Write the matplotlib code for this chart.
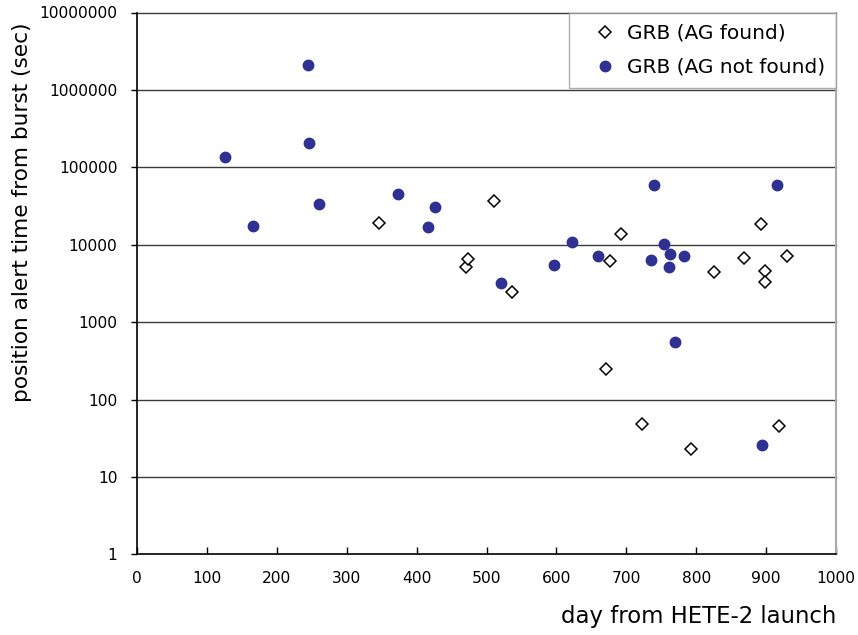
import matplotlib
matplotlib.use("Agg")
import matplotlib.pyplot as plt
from matplotlib.ticker import FixedLocator, NullLocator, FixedFormatter

plt.rcParams['font.family'] = ['DejaVu Sans']

# GRB with afterglow found
found_day = [346, 470, 473, 511, 537, 671, 677, 692, 723, 792, 826, 868, 893, 898, 898, 919, 930]
found_sec = [19200, 5200, 6600, 36700, 2450, 248, 6100, 13900, 48.7, 22.9, 4400, 6800, 18500, 4610, 3300, 45, 7080]

# GRB with afterglow not found
notfound_day = [126, 166, 244, 246, 260, 373, 416, 427, 521, 597, 623, 660, 735, 739,
                754, 761, 763, 770, 783, 894, 916]
notfound_sec = [137000, 17500, 2100000, 208000, 33600, 44800, 16800, 31000, 3230, 5520, 10900, 7080, 6400, 59600,
                10200, 5150, 7650, 553, 7140, 25.8, 59600]

x_ticks = list(range(0, 1001, 100))
y_ticks = [1, 10, 100, 1000, 10000, 100000, 1000000, 10000000]
y_labels = [str(v) for v in y_ticks]

fig = plt.figure(figsize=(8.58, 6.35), dpi=100)
ax = fig.add_axes([137 / 858, 1 - 554.3 / 635, (836 - 137) / 858, (554.3 - 12.5) / 635])

ax.set_yscale('log')
ax.set_xlim(0, 1000)
ax.set_ylim(1, 10000000)

for v in y_ticks[1:]:
    ax.axhline(v, color='#3a3a3a', lw=1.0, zorder=1, clip_on=False)

ax.plot(found_day, found_sec, linestyle='none', marker='D', ms=6.5, mfc='white',
        mec='black', mew=1.1, label='GRB (AG found)', zorder=3)
ax.plot(notfound_day, notfound_sec, linestyle='none', marker='o', ms=7.5, mfc='#2e3192',
        mec='#2e3192', label='GRB (AG not found)', zorder=3)

ax.xaxis.set_major_locator(FixedLocator(x_ticks))
ax.yaxis.set_major_locator(FixedLocator(y_ticks))
ax.yaxis.set_major_formatter(FixedFormatter(y_labels))
ax.yaxis.set_minor_locator(NullLocator())

ax.tick_params(axis='x', direction='in', length=5, width=1, pad=12, labelsize=11.2)
ax.tick_params(axis='y', direction='out', length=4, width=1, pad=10, labelsize=11.2)

ax.spines['top'].set_visible(False)
ax.spines['right'].set_color('#aaaaaa')
ax.spines['right'].set_linewidth(1.5)
ax.spines['left'].set_linewidth(1.2)
ax.spines['bottom'].set_linewidth(1.2)

leg = ax.legend(loc='upper right', borderaxespad=0, fontsize=14.5, frameon=True,
                fancybox=False, handletextpad=-0.1, borderpad=0.55, labelspacing=0.75,
                handlelength=2.4)
leg.get_frame().set_edgecolor('#999999')
leg.get_frame().set_linewidth(1.0)

fig.text(22 / 858, 1 - 212 / 635, 'position alert time from burst (sec)', rotation=90,
         ha='center', va='center', fontsize=15.6)
fig.text(836 / 858, 1 - 617 / 635, 'day from HETE-2 launch', ha='right', va='center', fontsize=16.4)

fig.savefig('out.png', dpi=100)
